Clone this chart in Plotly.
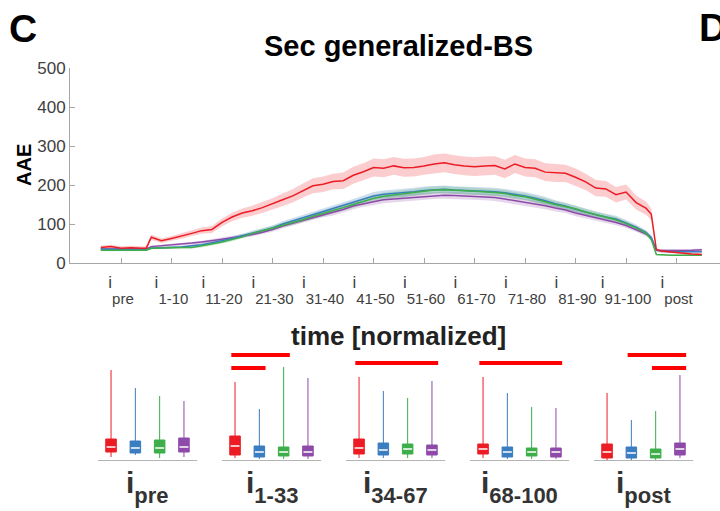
import plotly.graph_objects as go

W, H = 720, 511
FONT = "Liberation Sans, Arial, sans-serif"

# ---- top panel: AAE over normalized time (pre 10 samples, ictal 1..100, post 10) ----
t = [-9, -7, -5, -3, -1, 0] + list(range(1, 100, 2)) + [100, 101, 102, 104, 106, 108, 110]

red = [40, 42, 38, 39, 38, 38,
       66, 57, 63, 69, 76, 83, 86, 104, 118, 128, 134, 142, 151, 162, 172, 186, 198, 202, 209, 211,
       225, 234, 245, 243, 249, 244, 245, 249, 254, 257, 252, 249, 247, 249, 250, 241, 254, 245, 243, 233,
       231, 230, 220, 208, 192, 190, 175, 182, 155, 140,
       125, 34, 31, 28, 25, 23, 22]
blue = [35, 35, 35, 34, 35, 35,
        38, 39, 40, 41, 44, 47, 52, 57, 63, 70, 77, 83, 90, 100, 108, 115, 124, 131, 138, 147,
        155, 164, 172, 176, 178, 180, 183, 186, 188, 189, 187, 186, 185, 184, 183, 180, 176, 172, 166, 160,
        152, 146, 138, 130, 124, 118, 113, 103, 92, 78,
        65, 33, 30, 29, 29, 29, 29]
green = [33, 33, 32, 33, 33, 33,
         38, 39, 40, 40, 40, 44, 49, 54, 60, 67, 76, 82, 89, 97, 104, 111, 120, 127, 134, 142,
         150, 158, 166, 171, 174, 177, 181, 184, 187, 188, 186, 185, 184, 183, 181, 178, 173, 170, 164, 157,
         150, 145, 139, 131, 124, 117, 111, 101, 90, 76,
         60, 22, 21, 20, 20, 20, 20]
purple = [36, 36, 35, 35, 36, 36,
          42, 44, 46, 48, 51, 54, 57, 61, 65, 69, 73, 79, 86, 95, 102, 109, 117, 124, 130, 137,
          146, 152, 157, 162, 164, 167, 169, 171, 173, 174, 173, 172, 171, 170, 168, 164, 160, 156, 151, 147,
          141, 136, 128, 122, 116, 110, 104, 96, 86, 74,
          65, 33, 32, 32, 32, 33, 34]

red_sem = [5, 5, 5, 5, 5, 5,
           7, 6, 6, 7, 7, 8, 9, 10, 11, 12, 13, 14, 15, 16, 17, 18, 19, 20, 20, 21,
           22, 22, 23, 23, 23, 23, 23, 23, 24, 24, 24, 24, 24, 24, 24, 24, 23, 23, 23, 23,
           23, 22, 22, 21, 21, 20, 20, 19, 18, 17,
           15, 4, 4, 3, 3, 3, 3]
blue_sem = [3, 3, 3, 3, 3, 3,
            3, 3, 3, 3, 4, 4, 4, 5, 5, 5, 6, 6, 6, 7, 7, 7, 8, 8, 8, 9,
            9, 9, 10, 10, 10, 10, 10, 10, 10, 10, 10, 10, 10, 10, 10, 10, 10, 10, 10, 10,
            9, 9, 9, 9, 8, 8, 8, 7, 7, 6,
            5, 3, 3, 3, 3, 3, 3]
green_sem = [3, 3, 3, 3, 3, 3,
             3, 3, 3, 3, 3, 4, 4, 4, 5, 5, 5, 6, 6, 6, 7, 7, 7, 8, 8, 8,
             9, 9, 9, 9, 9, 9, 9, 9, 9, 9, 9, 9, 9, 9, 9, 9, 9, 9, 9, 9,
             9, 8, 8, 8, 8, 7, 7, 7, 6, 6,
             5, 2, 2, 2, 2, 2, 2]
purple_sem = [3, 3, 3, 3, 3, 3,
              3, 3, 3, 3, 3, 3, 4, 4, 4, 5, 5, 5, 6, 6, 6, 7, 7, 7, 8, 8,
              8, 8, 9, 9, 9, 9, 9, 9, 9, 9, 9, 9, 9, 9, 9, 9, 9, 9, 9, 9,
              9, 8, 8, 8, 7, 7, 7, 6, 6, 6,
              5, 3, 3, 3, 3, 3, 3]

tick_pos = [-5, 5, 15, 25, 35, 45, 55, 65, 75, 85, 95, 105]
tick_sub = ["pre", "1-10", "11-20", "21-30", "31-40", "41-50", "51-60",
            "61-70", "71-80", "81-90", "91-100", "post"]

# ---- bottom panel: per-period box summaries ----
box_groups = ["pre", "1-33", "34-67", "68-100", "post"]
red_q1 = [9, 6, 7, 7, 3]
red_med = [14, 15, 13, 12, 9]
red_q3 = [22, 25, 22, 17, 17]
red_lo = [4, 3, 3, 3, 1]
red_hi = [91, 79, 84, 84, 68]
blue_q1 = [8, 4, 6, 4, 3]
blue_med = [13, 9, 11, 9, 8]
blue_q3 = [20, 15, 18, 14, 14]
blue_lo = [6, 2, 3, 2, 1]
blue_hi = [73, 52, 70, 68, 41]
green_q1 = [8, 5, 7, 5, 3]
green_med = [13, 9, 12, 9, 7]
green_q3 = [21, 14, 17, 13, 12]
green_lo = [3, 2, 3, 2, 1]
green_hi = [65, 94, 63, 54, 50]
purple_q1 = [9, 5, 6, 4, 6]
purple_med = [14, 9, 11, 9, 12]
purple_q3 = [23, 15, 16, 13, 18]
purple_lo = [4, 2, 3, 2, 3]
purple_hi = [60, 83, 80, 53, 86]

# significance bars: group, first box, last box, height
sig_group = [1, 1, 2, 3, 4, 4]
sig_from = [0, 0, 0, 0, 1, 2]
sig_to = [2, 1, 3, 3, 3, 3]
sig_level = [106, 93, 98, 98, 106, 93]

colors = {"red": "#ec1c24", "blue": "#3b7dc1", "green": "#3dae4a", "purple": "#8e4aa8"}
bands = {"red": "rgba(236,28,36,0.22)", "blue": "rgba(59,125,193,0.25)",
         "green": "rgba(61,174,74,0.22)", "purple": "rgba(142,74,168,0.22)"}

fig = go.Figure()

series = [("purple", purple, purple_sem), ("blue", blue, blue_sem),
          ("green", green, green_sem), ("red", red, red_sem)]
for name, vals, sem in series:
    upper = [v + s for v, s in zip(vals, sem)]
    lower = [v - s for v, s in zip(vals, sem)]
    fig.add_trace(go.Scatter(x=t + t[::-1], y=upper + lower[::-1], fill="toself",
                             fillcolor=bands[name], line=dict(width=0), mode="lines",
                             hoverinfo="skip", showlegend=False))
for name, vals, sem in series:
    fig.add_trace(go.Scatter(x=t, y=vals, mode="lines", line=dict(color=colors[name], width=1.5),
                             name=name, showlegend=False))

# box panel
offsets = [-0.294, -0.098, 0.098, 0.294]
box_series = [("red", red_q1, red_med, red_q3, red_lo, red_hi),
              ("blue", blue_q1, blue_med, blue_q3, blue_lo, blue_hi),
              ("green", green_q1, green_med, green_q3, green_lo, green_hi),
              ("purple", purple_q1, purple_med, purple_q3, purple_lo, purple_hi)]

# baselines under each group
bx, by = [], []
for g in range(len(box_groups)):
    bx += [g - 0.4, g + 0.4, None]
    by += [0, 0, None]
fig.add_trace(go.Scatter(x=bx, y=by, mode="lines", line=dict(color="#b4b4b4", width=2),
                         xaxis="x2", yaxis="y2", hoverinfo="skip", showlegend=False))

for j, (name, q1, med, q3, lo, hi) in enumerate(box_series):
    pos = [g + offsets[j] for g in range(len(box_groups))]
    fig.add_trace(go.Box(x=pos, q1=q1, median=med, q3=q3, lowerfence=lo, upperfence=hi,
                         fillcolor=colors[name], line=dict(color=colors[name], width=1),
                         width=0.085, whiskerwidth=0, boxpoints=False,
                         xaxis="x2", yaxis="y2", showlegend=False))
    mx, my = [], []
    for p, m in zip(pos, med):
        mx += [p - 0.036, p + 0.036, None]
        my += [m, m, None]
    fig.add_trace(go.Scatter(x=mx, y=my, mode="lines", line=dict(color="white", width=1.5),
                             xaxis="x2", yaxis="y2", hoverinfo="skip", showlegend=False))

sx, sy = [], []
for g, a, b, lv in zip(sig_group, sig_from, sig_to, sig_level):
    sx += [g + offsets[a] - 0.03, g + offsets[b] + 0.05, None]
    sy += [lv, lv, None]
fig.add_trace(go.Scatter(x=sx, y=sy, mode="lines", line=dict(color="#ff0000", width=4),
                         xaxis="x2", yaxis="y2", hoverinfo="skip", showlegend=False))

tick_text = ['i<span style="font-size:15px;baseline-shift:-16px">%s</span>' % s for s in tick_sub]

axis_col = "#a6a6a6"
fig.update_layout(
    width=W, height=H, autosize=False,
    margin=dict(l=0, r=0, t=0, b=0),
    paper_bgcolor="white", plot_bgcolor="white",
    font=dict(family=FONT, color="#404040"),
    boxmode="overlay",
    xaxis=dict(domain=[70 / W, 1], range=[-15.1, 113.6], anchor="y",
               showline=True, linecolor=axis_col, linewidth=1,
               ticks="inside", ticklen=5, tickcolor=axis_col, ticklabelstandoff=4,
               tickvals=tick_pos, ticktext=tick_text, tickfont=dict(size=17, color="#404040"),
               showgrid=False, zeroline=False, automargin=False),
    yaxis=dict(domain=[1 - 263 / H, 1 - 68 / H], range=[0, 500], anchor="x",
               showline=True, linecolor=axis_col, linewidth=1,
               ticks="inside", ticklen=5, tickcolor=axis_col,
               tickvals=[0, 100, 200, 300, 400, 500], tickfont=dict(size=17, color="#404040"),
               showgrid=False, zeroline=False, automargin=False),
    xaxis2=dict(domain=[0, 1], range=[-1.1895, 4.6169], anchor="y2", visible=False),
    yaxis2=dict(domain=[1 - 461 / H, 1 - 345 / H], range=[0, 116], anchor="x2", visible=False),
)

annots = [
    dict(text="<b>C</b>", x=23 / W, y=1 - 29 / H, font=dict(size=39, color="black")),
    dict(text="<b>D</b>", x=697 / W, y=1 - 27 / H, xanchor="left", font=dict(size=39, color="black")),
    dict(text="<b>Sec generalized-BS</b>", x=398 / W, y=1 - 46 / H, font=dict(size=29, color="black")),
    dict(text="<b>AAE</b>", x=24 / W, y=1 - 165 / H, textangle=-90, font=dict(size=20, color="black")),
    dict(text="<b>time [normalized]</b>", x=398 / W, y=1 - 336 / H, font=dict(size=26, color="#222222")),
]
for a in annots:
    a.setdefault("xanchor", "center")
    fig.add_annotation(xref="paper", yref="paper", yanchor="middle", showarrow=False, **a)

for g, lab in enumerate(box_groups):
    fig.add_annotation(
        x=g, xref="x2", y=1 - 487 / H, yref="paper", showarrow=False,
        text='<b>i<span style="font-size:22px;baseline-shift:-10px">%s</span></b>' % lab,
        font=dict(size=30, color="#333333"), xanchor="center", yanchor="middle")

fig.write_html("out.html", config={"displayModeBar": False},
               post_script="document.body.style.margin='0px';")
